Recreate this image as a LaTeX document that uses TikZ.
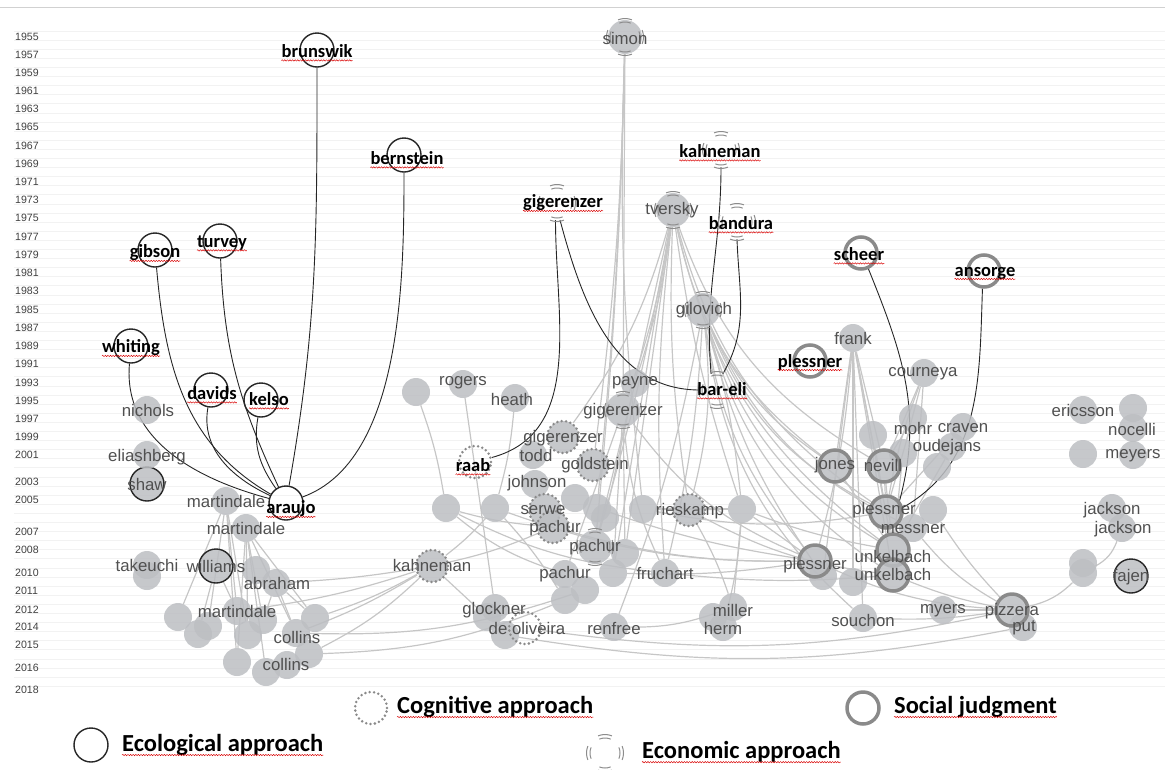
\documentclass[tikz,border=0pt]{standalone}
\usepackage{fontspec}
\setmainfont{Liberation Sans}
\newfontfamily\calib{Carlito}
\usetikzlibrary{backgrounds, decorations.pathmorphing}

\definecolor{nodefill}{RGB}{188,190,194}
\definecolor{linkgray}{RGB}{198,198,198}
\definecolor{labgray}{RGB}{80,80,80}
\definecolor{ringgray}{RGB}{138,138,138}
\definecolor{gridgray}{RGB}{242,242,242}

\tikzset{
  author/.style={circle, fill=nodefill, fill opacity=0.85, minimum size=28pt, inner sep=0pt},
  eco/.style={circle, draw=black!85, line width=1.4pt, minimum size=34pt, inner sep=0pt},
  cog/.style={circle, draw=ringgray, line width=2.8pt, dash pattern=on 0pt off 4.4pt, line cap=round, minimum size=32pt, inner sep=0pt},
  soc/.style={circle, draw=ringgray, line width=3.5pt, minimum size=32pt, inner sep=0pt},
  econ/.style={circle, minimum size=34pt, inner sep=0pt},
  econarcs/.pic={
    \foreach \a in {0,90,180,270}
      \foreach \rad in {15,18.5}
        \draw[black!45, line width=1pt] (\a-22:\rad pt) arc[start angle=\a-22, end angle=\a+22, radius=\rad pt];
  },
  glab/.style={font=\fontsize{16.8}{17}\selectfont, text=labgray, inner sep=0pt},
  blab/.style={font=\calib\bfseries\fontsize{18.5}{19}\selectfont, inner sep=0pt},
  legtext/.style={font=\calib\bfseries\fontsize{24.5}{25}\selectfont, inner sep=0pt, anchor=west},
  spell/.style={draw=red!85!black, line width=0.45pt, decorate, decoration={snake, amplitude=0.7pt, segment length=2.6pt}},
  link/.style={draw=linkgray, line width=1.2pt},
  blacklink/.style={draw=black!85, line width=0.9pt},
}

\begin{document}
\begin{tikzpicture}[x=1pt, y=-1pt]
\useasboundingbox (0,0) rectangle (1165,769);

% year grid
\begin{scope}[on background layer]
  \draw[black!18, line width=1pt] (0,7) -- (1165,7);
  \foreach \k in {0,...,72}
    \draw[gridgray, line width=0.8pt] (14,31+9.1*\k) -- (1165,31+9.1*\k);
\end{scope}
\foreach \yr/\y in {1955/37,1957/55,1959/73,1961/91,1963/109,1965/127,1967/146,1969/164,1971/182,1973/200,1975/218,1977/237,1979/255,1981/273,1983/291,1985/310,1987/328,1989/346,1991/364,1993/383,1995/401,1997/419,1999/437,2001/455,2003/482,2005/500,2007/532,2008/550,2010/573,2011/591,2012/610,2014/627,2015/645,2016/668,2018/690}
  \node[font=\fontsize{10.6}{11}\selectfont, text=black!75, anchor=west, inner sep=0pt] (yr\yr) at (15,\y) {\yr};

% ecological approach
\node[eco] (brunswik) at (317,50) {};
\node[eco] (bernstein) at (404,155) {};
\node[eco] (gibson) at (155,250) {};
\node[eco] (turvey) at (220,241) {};
\node[eco] (whiting) at (131,346) {};
\node[eco] (davids) at (211,390) {};
\node[eco] (kelso) at (261,400) {};
\node[eco] (araujo) at (286,503) {};
\node[author, eco] (shaw) at (147,484) {};
\node[author, eco] (williams) at (216,566) {};
\node[author, eco] (fajen) at (1131,576) {};

% left cluster
\foreach \n/\x/\y in {nichols/147/410, eliash/147/455, mart1/226/501, mart2/246/528, takeA/147/565, takeB/147/576,
  wa1/256/570, abraham/276/583, wa2/178/617, wa3/198/634, wa4/208/626, mart3/237/611, wa5/263/620, wa6/248/635,
  wa7/315/618, collins1/296/633, wa8/309/654, wa9/237/662, collins2/287/665, wa10/266/672}
  \node[author] (\n) at (\x,\y) {};

% middle cluster
\foreach \n/\x/\y in {blank1/416/392, rogers/463/384, heath/515/398, payne/635/383, todd/533/455, johnson/535/484,
  mc1/446/508, mc2/495/508, mc3/575/498, mc4/597/508, mc5/605/518, mc6/643/509, mc7/742/509, mc8/625/553,
  pachur/565/574, mc9/613/573, mc10/585/590, mc11/565/600, fruchart/665/573, glockner/495/608, mc12/487/617,
  mc13/505/635, renfree/614/627, miller/733/607, herm/723/627, mc14/713/617}
  \node[author] (\n) at (\x,\y) {};
\node[econ] (gigT) at (557,203) {};
\node[econ] (kahneman) at (721,150) {};
\node[econ] (bandura) at (737,222) {};
\node[econ] (bareli) at (717,390) {};
\node[author, econ] (simon) at (625,37) {};
\node[author, econ] (tversky) at (673,210) {};
\node[author, econ] (gilovich) at (703,310) {};
\node[author, econ] (gigE) at (623,410) {};
\node[author, econ] (pachurE) at (595,547) {};
\foreach \n in {gigT, kahneman, bandura, bareli, simon, tversky, gilovich, gigE, pachurE}
  \pic at (\n) {econarcs};
\node[cog] (raab) at (475,462) {};
\node[cog] (deoliv) at (525,628) {};
\node[author, cog] (gigC) at (563,437) {};
\node[author, cog] (goldstein) at (593,465) {};
\node[author, cog] (serwe) at (545,510) {};
\node[author, cog] (pachurC) at (553,527) {};
\node[author, cog] (rieskamp) at (689,510) {};
\node[author, cog] (kahnemanC) at (432,566) {};

% social judgment
\node[soc] (scheer) at (861,253) {};
\node[soc] (ansorge) at (984,271) {};
\node[soc] (plessner1) at (810,361) {};
\foreach \n/\x/\y in {frank/853/338, courneya/924/373, ra1/873/435, mohr/913/418, craven/963/427, oudejans/952/447,
  ra2/903/453, ra3/937/467, ra4/933/510, messner/913/528, ra5/823/576, ra6/853/582, souchon/863/618, myers/943/610,
  put/1023/627, jackson1/1112/508, jackson2/1122/528, ra7/1083/563, ra8/1083/573, ericsson/1083/410, ra9/1133/408,
  nocelli/1133/428, ra10/1083/454, meyers/1133/455}
  \node[author] (\n) at (\x,\y) {};
\foreach \n/\x/\y in {jones/835/466, nevill/884/466, plessner2/886/512, unkel1/893/550, unkel2/893/575,
  plessner3/815/561, pizzera/1012/610}
  \node[author, soc] (\n) at (\x,\y) {};

% citation links
\begin{scope}[on background layer]
  \foreach \a/\b/\c in {simon/gigE/0, simon/pachurE/2, simon/goldstein/3, simon/mc6/-4, simon/mc4/2,
    tversky/payne/5, tversky/gigE/5, tversky/gigC/10, tversky/pachurE/3, tversky/mc5/0, tversky/mc8/0,
    tversky/rieskamp/-5, tversky/mc7/-5, tversky/fruchart/-5, tversky/jones/-20, tversky/nevill/-20,
    tversky/plessner2/-20, tversky/unkel1/-20, tversky/mc9/0,
    gilovich/jones/-15, gilovich/plessner2/-20, gilovich/unkel1/-20, gilovich/plessner3/-15, gilovich/ra5/-10,
    gilovich/mc7/5, gilovich/rieskamp/10, gilovich/fruchart/5, gilovich/souchon/-20, gilovich/renfree/5,
    gilovich/unkel2/-20, gilovich/messner/-20,
    frank/jones/0, frank/nevill/0, frank/plessner2/0, frank/unkel1/0, frank/unkel2/0, frank/ra5/0, frank/ra6/0,
    frank/souchon/0, frank/plessner3/5,
    courneya/nevill/0, courneya/plessner2/-5, courneya/messner/0, courneya/ra2/0,
    payne/pachurE/0, gigE/pachur/0, gigE/mc8/0, gigE/mc9/0, gigE/fruchart/-10, gigE/plessner3/-15,
    rogers/glockner/0, blank1/mc1/5, heath/mc2/5,
    kahnemanC/wa7/5, kahnemanC/collins1/5, kahnemanC/wa8/8, kahnemanC/abraham/3, kahnemanC/mart3/5,
    kahnemanC/mc2/-5, kahnemanC/pachurC/-5, kahnemanC/mc12/0,
    mart1/wa2/0, mart1/mart3/0, mart1/wa9/0, mart1/wa6/0, mart1/wa4/0,
    mart2/wa5/0, mart2/wa6/0, mart2/collins1/0, mart2/wa9/0, mart2/wa10/0, mart2/wa7/0,
    abraham/wa5/0, abraham/collins1/0, abraham/wa7/0, williams/wa3/0, williams/mart3/0,
    collins1/mc10/-10, wa8/mc11/-10, mc1/pachurC/-5, mc1/pachur/-10, mc2/mc11/5, mc2/plessner3/-10,
    mc1/fruchart/-10, pachurC/plessner3/-8, mc4/plessner3/-5, mc9/plessner3/-5, mc7/plessner3/0,
    mc7/unkel1/-5, rieskamp/unkel2/-10, rieskamp/miller/5, fruchart/unkel2/-5, mc6/plessner2/-10,
    deoliv/pizzera/-10, mc13/put/-10, renfree/miller/-10, souchon/pizzera/-5, unkel2/pizzera/-5,
    messner/pizzera/-10, ra4/pizzera/-5, myers/pizzera/0, plessner3/pizzera/-10, pizzera/ra8/-15,
    ra8/jackson2/-20, jones/unkel1/0, nevill/plessner2/0, nevill/unkel1/0, mohr/plessner2/0, mohr/nevill/0,
    craven/plessner2/0, oudejans/unkel1/0, ra1/plessner2/0, ra2/unkel1/0, mc7/miller/0, mc7/herm/5,
    mc6/mc7/0, rieskamp/mc7/0}
    \draw[link] (\a) to[bend left=\c] (\b);

  \draw[blacklink] (brunswik) to[out=-90, in=80] (araujo);
  \draw[blacklink] (bernstein) to[out=-90, in=20, looseness=0.8] (araujo);
  \draw[blacklink] (gibson) to[out=-85, in=150] (araujo);
  \draw[blacklink] (turvey) to[out=-88, in=115] (araujo);
  \draw[blacklink] (whiting) to[out=-95, in=165] (araujo);
  \draw[blacklink] (davids) to[out=-100, in=155] (araujo);
  \draw[blacklink] (kelso) to[out=-100, in=125] (araujo);
  \draw[blacklink] (gigT.-95) to[out=-90, in=15] (raab);
  \draw[blacklink] (gigT.-80) to[out=-75, in=180] (bareli.west);
  \draw[blacklink] (kahneman.south) to[out=-90, in=95] (bareli.110);
  \draw[blacklink] (bandura.south) to[out=-88, in=60] (bareli.70);
  \draw[blacklink] (scheer.-65) to[out=-68, in=75] (plessner2.40);
  \draw[blacklink] (ansorge.-95) to[out=-92, in=30] (plessner2.15);
\end{scope}

% names
\foreach \x/\y/\t [count=\i] in {625/38/simon, 672/210/tversky, 704/310/gilovich, 635/383/payne, 623/411/gigerenzer,
  463/383/rogers, 512/399/heath, 563/438/gigerenzer, 536/455/todd, 595/465/goldstein, 537/483/johnson,
  543/510/serwe, 555/528/pachur, 690/511/rieskamp, 595/547/pachur, 432/565/kahneman, 565/574/pachur,
  665/573/fruchart, 494/610/glockner, 527/628/de oliveira, 614/628/renfree, 733/610/miller, 723/628/herm,
  148/410/nichols, 147/457/eliashberg, 147/484/shaw, 226/501/martindale, 246/528/martindale, 147/565/takeuchi,
  216/566/williams, 277/583/abraham, 237/611/martindale, 297/637/collins, 286/664/collins,
  853/338/frank, 923/374/courneya, 913/428/mohr, 963/428/craven, 947/447/oudejans, 1083/410/ericsson,
  1132/429/nocelli, 1133/456/meyers, 835/465/jones, 883/465/nevill, 884/510/plessner, 913/529/messner,
  893/556/unkelbach, 893/574/unkelbach, 815/565/plessner, 863/620/souchon, 943/611/myers, 1012/611/pizzera,
  1024/628/put, 1112/510/jackson, 1123/529/jackson, 1131/577/fajen}
  \node[glab] (gl\i) at (\x,\y) {\t};
\foreach \x/\y/\t [count=\i] in {317/51/brunswik, 407/158/bernstein, 155/253/gibson, 222/243/turvey,
  131/348/whiting, 212/393/davids, 269/399/kelso, 291/509/araujo, 563/203/gigerenzer, 720/151/kahneman,
  741/223/bandura, 722/389/bar-eli, 473/465/raab, 859/254/scheer, 985/273/ansorge, 810/362/plessner} {
  \node[blab] (bl\i) at (\x,\y) {\t};
  \draw[spell] ([yshift=-3pt]bl\i.base west) -- ([yshift=-3pt]bl\i.base east);
}

% legend
\node[cog] (legcog) at (371,708) {};
\node[legtext] (legcogtext) at (397,707) {Cognitive approach};
\node[soc] (legsoc) at (863,708) {};
\node[legtext] (legsoctext) at (894,707) {Social judgment};
\node[eco] (legeco) at (91,745) {};
\node[legtext] (legecotext) at (122,745) {Ecological approach};
\node[econ] (legecon) at (605,753) {};
\pic at (legecon) {econarcs};
\node[legtext] (legecontext) at (642,752) {Economic approach};
\foreach \n in {legcogtext, legsoctext, legecotext, legecontext}
  \draw[spell] ([yshift=-3.5pt]\n.base west) -- ([yshift=-3.5pt]\n.base east);
\end{tikzpicture}
\end{document}
